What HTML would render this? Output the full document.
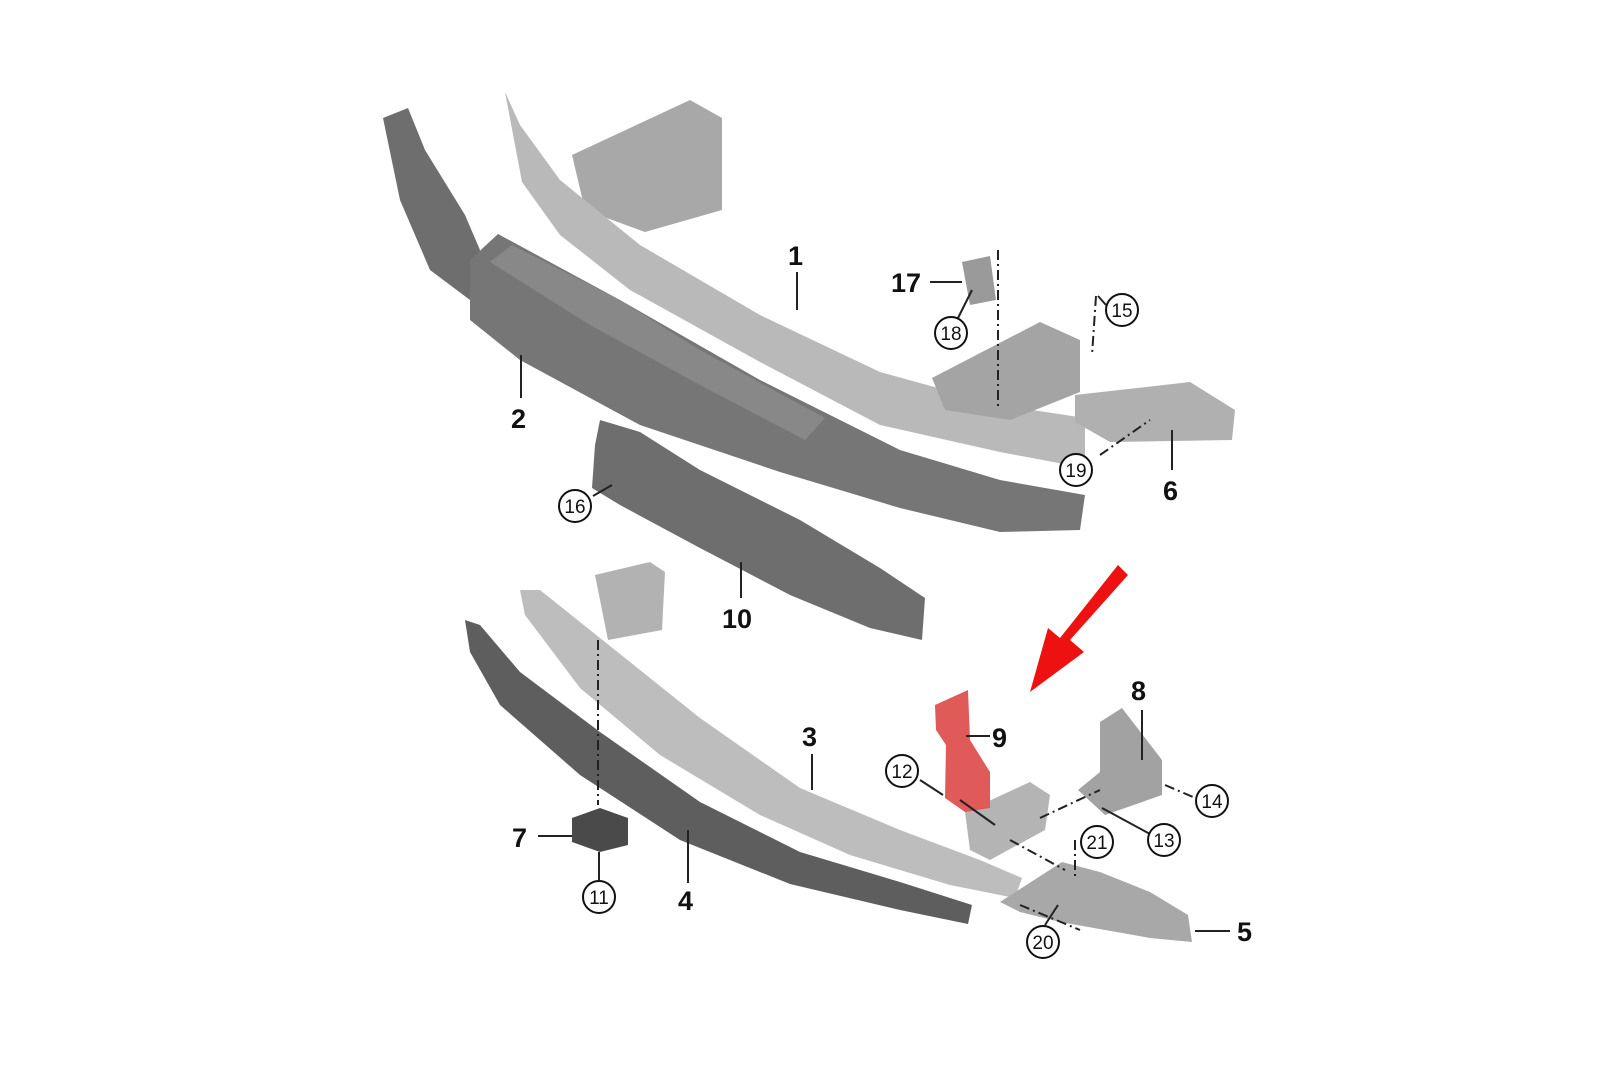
<!DOCTYPE html>
<html><head><meta charset="utf-8"><style>
html,body{margin:0;padding:0;background:#fff;}
svg{display:block}
.n{font-family:"Liberation Sans",sans-serif;font-weight:bold;font-size:27px;fill:#111}
.c{font-family:"Liberation Sans",sans-serif;font-size:19px;fill:#111;text-anchor:middle}
.ln{stroke:#222;stroke-width:2;fill:none}
.dl{stroke:#222;stroke-width:2;fill:none;stroke-dasharray:10 4 2 4}
circle.k{fill:#fff;stroke:#111;stroke-width:2}
</style></head><body>
<svg width="1600" height="1067" viewBox="0 0 1600 1067">
<!-- Part 1 brackets -->
<polygon points="572,155 690,100 722,118 722,210 645,232 585,210" fill="#a8a8a8"/>
<!-- Part 1 beam -->
<polygon points="505,92 520,125 560,180 640,245 760,315 880,372 1000,405 1085,418 1085,468 1000,452 880,425 760,362 630,290 560,235 522,182" fill="#b9b9b9"/>
<polygon points="932,378 1040,322 1080,340 1080,392 1010,420 945,410" fill="#a4a4a4"/>
<!-- Part 2 absorber -->
<polygon points="383,118 408,108 425,150 465,215 480,250 470,300 430,270 400,200" fill="#6e6e6e"/>
<polygon points="470,260 498,234 620,300 760,380 830,415 900,450 1000,480 1085,495 1080,530 1000,532 900,508 780,472 640,425 520,360 470,320" fill="#767676"/>
<polygon points="490,262 512,245 620,300 700,350 825,418 805,440 700,385 590,325" fill="#888"/>
<!-- Part 6 -->
<polygon points="1075,395 1190,382 1235,410 1232,440 1110,442 1075,422" fill="#b0b0b0"/>
<!-- Part 17 -->
<polygon points="962,262 990,256 996,300 970,305" fill="#9a9a9a"/>
<!-- Part 10 -->
<polygon points="600,420 640,432 700,470 800,520 880,568 925,598 922,640 870,628 790,595 700,548 620,505 592,488 595,445" fill="#6e6e6e"/>
<!-- Part 3 -->
<polygon points="595,575 650,562 665,572 662,630 608,640" fill="#b2b2b2"/>
<polygon points="520,590 540,590 600,638 700,718 800,788 900,830 980,860 1022,878 1015,898 950,885 850,855 760,815 660,755 580,688 525,615" fill="#bdbdbd"/>
<polygon points="965,812 1030,782 1050,795 1045,830 990,860 970,850" fill="#b4b4b4"/>
<!-- Part 4 -->
<polygon points="465,620 480,625 520,672 600,732 700,802 800,852 900,882 972,905 968,924 900,910 790,884 680,840 580,775 500,705 470,652" fill="#5e5e5e"/>
<!-- Part 7 -->
<polygon points="572,818 600,808 628,818 628,845 600,852 572,842" fill="#4a4a4a"/>
<!-- Part 5 grid -->
<polygon points="1000,902 1062,862 1100,872 1150,892 1188,915 1192,942 1150,938 1060,922 1020,912" fill="#a8a8a8"/>
<!-- Part 8 -->
<polygon points="1100,722 1122,708 1162,760 1162,795 1105,815 1078,790 1100,772" fill="#a2a2a2"/>
<!-- Part 9 red -->
<polygon points="935,705 968,690 970,740 990,772 990,808 965,812 945,798 946,745 936,730" fill="#e05a5a"/>
<!-- Red arrow -->
<polygon points="1118,565 1128,575 1070,640 1084,652 1030,692 1048,628 1060,638" fill="#ee1111"/>

<!-- leaders -->
<line class="ln" x1="797" y1="272" x2="797" y2="310"/>
<line class="ln" x1="521" y1="355" x2="521" y2="398"/>
<line class="ln" x1="930" y1="282" x2="962" y2="282"/>
<line class="ln" x1="958" y1="318" x2="972" y2="290"/>
<line class="dl" x1="998" y1="250" x2="998" y2="410"/>
<line class="dl" x1="1096" y1="296" x2="1092" y2="355"/>
<line class="ln" x1="1106" y1="305" x2="1098" y2="296"/>
<line class="dl" x1="1100" y1="455" x2="1150" y2="420"/>
<line class="ln" x1="1172" y1="470" x2="1172" y2="430"/>
<line class="ln" x1="593" y1="496" x2="612" y2="485"/>
<line class="ln" x1="741" y1="598" x2="741" y2="562"/>
<line class="ln" x1="812" y1="754" x2="812" y2="790"/>
<line class="ln" x1="966" y1="736" x2="990" y2="736"/>
<line class="ln" x1="920" y1="780" x2="943" y2="795"/>
<line class="ln" x1="960" y1="800" x2="995" y2="825"/>
<line class="ln" x1="1142" y1="710" x2="1142" y2="760"/>
<line class="dl" x1="1165" y1="785" x2="1200" y2="800"/>
<line class="ln" x1="1150" y1="834" x2="1102" y2="808"/>
<line class="dl" x1="1040" y1="818" x2="1100" y2="790"/>
<line class="dl" x1="1010" y1="840" x2="1065" y2="870"/>
<line class="dl" x1="1075" y1="840" x2="1075" y2="880"/>
<line class="ln" x1="1195" y1="931" x2="1230" y2="931"/>
<line class="dl" x1="1020" y1="905" x2="1080" y2="930"/>
<line class="ln" x1="1045" y1="925" x2="1058" y2="905"/>
<line class="ln" x1="688" y1="883" x2="688" y2="830"/>
<line class="ln" x1="538" y1="836" x2="572" y2="836"/>
<line class="ln" x1="599" y1="880" x2="599" y2="852"/>
<line class="dl" x1="598" y1="640" x2="598" y2="805"/>

<!-- labels -->
<text class="n" x="788" y="265">1</text>
<text class="n" x="511" y="428">2</text>
<text class="n" x="802" y="746">3</text>
<text class="n" x="678" y="910">4</text>
<text class="n" x="1237" y="941">5</text>
<text class="n" x="1163" y="500">6</text>
<text class="n" x="512" y="847">7</text>
<text class="n" x="1131" y="700">8</text>
<text class="n" x="992" y="747">9</text>
<text class="n" x="722" y="628">10</text>
<text class="n" x="891" y="292">17</text>

<g>
<circle class="k" cx="1122" cy="310" r="16"/><text class="c" x="1122" y="317">15</text>
<circle class="k" cx="951" cy="333" r="16"/><text class="c" x="951" y="340">18</text>
<circle class="k" cx="1076" cy="470" r="16"/><text class="c" x="1076" y="477">19</text>
<circle class="k" cx="575" cy="506" r="16"/><text class="c" x="575" y="513">16</text>
<circle class="k" cx="902" cy="771" r="16"/><text class="c" x="902" y="778">12</text>
<circle class="k" cx="1212" cy="801" r="16"/><text class="c" x="1212" y="808">14</text>
<circle class="k" cx="1164" cy="840" r="16"/><text class="c" x="1164" y="847">13</text>
<circle class="k" cx="1097" cy="842" r="16"/><text class="c" x="1097" y="849">21</text>
<circle class="k" cx="1043" cy="942" r="16"/><text class="c" x="1043" y="949">20</text>
<circle class="k" cx="599" cy="897" r="16"/><text class="c" x="599" y="904">11</text>
</g>
</svg>
</body></html>
